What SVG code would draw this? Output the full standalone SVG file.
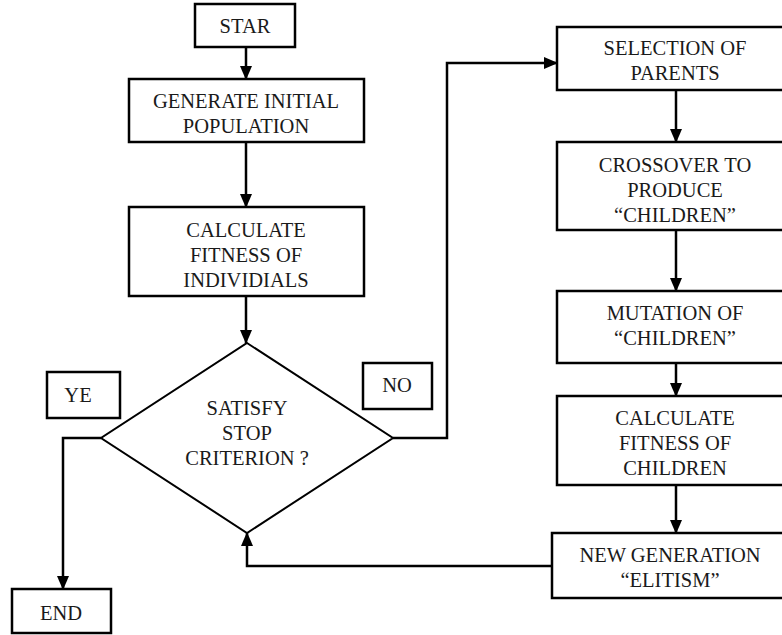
<svg xmlns="http://www.w3.org/2000/svg" width="782" height="635" viewBox="0 0 782 635">
<style>
.box{fill:#fff;stroke:#000;stroke-width:2.5}
.dia{fill:#fff;stroke:#000;stroke-width:2}
.c{fill:none;stroke:#000;stroke-width:2.5}
</style>
<defs>
<marker id="ah" markerUnits="userSpaceOnUse" markerWidth="14" markerHeight="14" viewBox="0 0 14 14" refX="13" refY="7" orient="auto">
<path d="M0,1 L14,7 L0,13 Z" fill="#000"/>
</marker>
</defs>
<rect width="782" height="635" fill="#fff"/>
<g id="connectors">
<line class="c" x1="246" y1="47" x2="246" y2="79" marker-end="url(#ah)"/>
<line class="c" x1="246" y1="142" x2="246" y2="207" marker-end="url(#ah)"/>
<line class="c" x1="246" y1="296" x2="246" y2="343" marker-end="url(#ah)"/>
<polyline class="c" points="101,438 63,438 63,589" marker-end="url(#ah)"/>
<polyline class="c" points="393,438 447,438 447,63 557,63" marker-end="url(#ah)"/>
<line class="c" x1="676" y1="90" x2="676" y2="142" marker-end="url(#ah)"/>
<line class="c" x1="676" y1="230" x2="676" y2="291" marker-end="url(#ah)"/>
<line class="c" x1="676" y1="363" x2="676" y2="396" marker-end="url(#ah)"/>
<line class="c" x1="676" y1="485" x2="676" y2="533" marker-end="url(#ah)"/>
<polyline class="c" points="552,566 247,566 247,533" marker-end="url(#ah)"/>
</g>
<g id="start">
<rect class="box" x="195" y="4" width="100" height="43"/>
<text font-family="Liberation Serif" font-size="20.5" fill="#1a1a1a" text-anchor="middle" x="245" y="33">STAR</text>
</g>
<g id="generate">
<rect class="box" x="129" y="79" width="235" height="63"/>
<text font-family="Liberation Serif" font-size="20.5" fill="#1a1a1a" text-anchor="middle" x="246" y="108">GENERATE INITIAL</text>
<text font-family="Liberation Serif" font-size="20.5" fill="#1a1a1a" text-anchor="middle" x="246" y="133">POPULATION</text>
</g>
<g id="calc-ind">
<rect class="box" x="129" y="207" width="235" height="89"/>
<text font-family="Liberation Serif" font-size="20.5" fill="#1a1a1a" text-anchor="middle" x="246" y="237">CALCULATE</text>
<text font-family="Liberation Serif" font-size="20.5" fill="#1a1a1a" text-anchor="middle" x="246" y="262">FITNESS OF</text>
<text font-family="Liberation Serif" font-size="20.5" fill="#1a1a1a" text-anchor="middle" x="246" y="287">INDIVIDIALS</text>
</g>
<g id="decision">
<polygon class="dia" points="247,343 393,438 247,533 101,438"/>
<text font-family="Liberation Serif" font-size="20.5" fill="#1a1a1a" text-anchor="middle" x="247" y="415">SATISFY</text>
<text font-family="Liberation Serif" font-size="20.5" fill="#1a1a1a" text-anchor="middle" x="247" y="440">STOP</text>
<text font-family="Liberation Serif" font-size="20.5" fill="#1a1a1a" text-anchor="middle" x="247" y="465">CRITERION ?</text>
</g>
<g id="yes">
<rect class="box" x="47" y="372" width="73" height="46"/>
<text font-family="Liberation Serif" font-size="20.5" fill="#1a1a1a" text-anchor="middle" x="78" y="402">YE</text>
</g>
<g id="no">
<rect class="box" x="363" y="363" width="69" height="46"/>
<text font-family="Liberation Serif" font-size="20.5" fill="#1a1a1a" text-anchor="middle" x="397" y="392">NO</text>
</g>
<g id="end">
<rect class="box" x="12" y="589" width="99" height="44"/>
<text font-family="Liberation Serif" font-size="20.5" fill="#1a1a1a" text-anchor="middle" x="61" y="620">END</text>
</g>
<g id="selection">
<rect class="box" x="557" y="27" width="250" height="63"/>
<text font-family="Liberation Serif" font-size="20.5" fill="#1a1a1a" text-anchor="middle" x="675" y="55">SELECTION OF</text>
<text font-family="Liberation Serif" font-size="20.5" fill="#1a1a1a" text-anchor="middle" x="675" y="80">PARENTS</text>
</g>
<g id="crossover">
<rect class="box" x="557" y="142" width="250" height="88"/>
<text font-family="Liberation Serif" font-size="20.5" fill="#1a1a1a" text-anchor="middle" x="675" y="172">CROSSOVER TO</text>
<text font-family="Liberation Serif" font-size="20.5" fill="#1a1a1a" text-anchor="middle" x="675" y="197">PRODUCE</text>
<text font-family="Liberation Serif" font-size="20.5" fill="#1a1a1a" text-anchor="middle" x="675" y="222">“CHILDREN”</text>
</g>
<g id="mutation">
<rect class="box" x="557" y="291" width="250" height="72"/>
<text font-family="Liberation Serif" font-size="20.5" fill="#1a1a1a" text-anchor="middle" x="675" y="320">MUTATION OF</text>
<text font-family="Liberation Serif" font-size="20.5" fill="#1a1a1a" text-anchor="middle" x="675" y="345">“CHILDREN”</text>
</g>
<g id="calc-children">
<rect class="box" x="557" y="396" width="250" height="89"/>
<text font-family="Liberation Serif" font-size="20.5" fill="#1a1a1a" text-anchor="middle" x="675" y="425">CALCULATE</text>
<text font-family="Liberation Serif" font-size="20.5" fill="#1a1a1a" text-anchor="middle" x="675" y="450">FITNESS OF</text>
<text font-family="Liberation Serif" font-size="20.5" fill="#1a1a1a" text-anchor="middle" x="675" y="475">CHILDREN</text>
</g>
<g id="new-gen">
<rect class="box" x="552" y="533" width="255" height="65"/>
<text font-family="Liberation Serif" font-size="20.5" fill="#1a1a1a" text-anchor="middle" x="670" y="562">NEW GENERATION</text>
<text font-family="Liberation Serif" font-size="20.5" fill="#1a1a1a" text-anchor="middle" x="670" y="587">“ELITISM”</text>
</g>
</svg>
